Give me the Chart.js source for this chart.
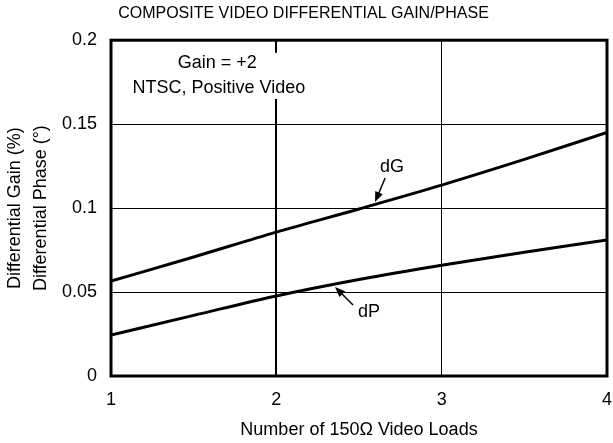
<!DOCTYPE html>
<html>
<head>
<meta charset="utf-8">
<script src="https://cdn.jsdelivr.net/npm/chart.js@4"></script>
<style>
body{margin:0;background:#fff}
#wrap{width:613px;height:443px;position:relative}
</style>
</head>
<body>
<div id="wrap"><canvas id="gainChart"></canvas></div>
<script>
// data
const loads = [1, 1.5, 2, 2.5, 3, 3.5, 4];
const dG = [0.0565, 0.0709, 0.0857, 0.0995, 0.1137, 0.129, 0.145];
const dP = [0.0244, 0.0361, 0.0477, 0.0575, 0.066, 0.0737, 0.081];
const xTicks = [1, 2, 3, 4];
const yTicks = [0, 0.05, 0.1, 0.15, 0.2];
const yTickLabels = ['0', '0.05', '0.1', '0.15', '0.2'];

const FONT = 'Arial, "Liberation Sans", sans-serif';

// frame + notes + arrow labels
const extras = {
  id: 'extras',
  afterDatasetsDraw(chart) {
    const {ctx, chartArea: a, scales: {x, y}} = chart;
    ctx.save();
    // note box (white bg breaks the x=2 grid line)
    ctx.fillStyle = '#fff';
    ctx.fillRect(x.getPixelForValue(1.08), y.getPixelForValue(0.1925), x.getPixelForValue(2.25) - x.getPixelForValue(1.08), y.getPixelForValue(0.165) - y.getPixelForValue(0.1925));
    ctx.fillStyle = '#000';
    ctx.font = '18px ' + FONT;
    ctx.textAlign = 'center';
    ctx.textBaseline = 'middle';
    ctx.fillText('Gain = +2', x.getPixelForValue(1.643), y.getPixelForValue(0.1864));
    ctx.fillText('NTSC, Positive Video', x.getPixelForValue(1.653), y.getPixelForValue(0.1715));

    // curve labels with arrows
    ctx.fillText('dG', x.getPixelForValue(2.70), y.getPixelForValue(0.1244));
    ctx.fillText('dP', x.getPixelForValue(2.56), y.getPixelForValue(0.038));
    arrow(ctx, x.getPixelForValue(2.658), y.getPixelForValue(0.1179), x.getPixelForValue(2.597), y.getPixelForValue(0.1036));
    arrow(ctx, x.getPixelForValue(2.464), y.getPixelForValue(0.0423), x.getPixelForValue(2.355), y.getPixelForValue(0.053));

    // frame
    ctx.strokeStyle = '#000';
    ctx.lineWidth = 3;
    ctx.strokeRect(a.left, a.top, a.right - a.left, a.bottom - a.top);
    ctx.restore();
  }
};

function arrow(ctx, x0, y0, x1, y1) {
  const ang = Math.atan2(y1 - y0, x1 - x0);
  const len = 11, w = 0.38;
  ctx.strokeStyle = '#000';
  ctx.lineWidth = 1.5;
  ctx.beginPath();
  ctx.moveTo(x0, y0);
  ctx.lineTo(x1 - Math.cos(ang) * len * 0.8, y1 - Math.sin(ang) * len * 0.8);
  ctx.stroke();
  ctx.beginPath();
  ctx.moveTo(x1, y1);
  ctx.lineTo(x1 - len * Math.cos(ang - w), y1 - len * Math.sin(ang - w));
  ctx.lineTo(x1 - len * Math.cos(ang + w), y1 - len * Math.sin(ang + w));
  ctx.closePath();
  ctx.fill();
}

new Chart(document.getElementById('gainChart'), {
  type: 'line',
  data: {
    datasets: [{
      label: 'dG',
      data: loads.map((v, i) => ({x: v, y: dG[i]})),
      borderColor: '#000',
      borderWidth: 3,
      pointRadius: 0,
      cubicInterpolationMode: 'monotone'
    }, {
      label: 'dP',
      data: loads.map((v, i) => ({x: v, y: dP[i]})),
      borderColor: '#000',
      borderWidth: 3,
      pointRadius: 0,
      cubicInterpolationMode: 'monotone'
    }]
  },
  options: {
    responsive: true,
    maintainAspectRatio: false,
    animation: false,
    layout: {padding: {top: 0, right: 6, left: 0, bottom: 0}},
    plugins: {
      legend: {display: false},
      tooltip: {enabled: false},
      title: {
        display: true,
        text: 'COMPOSITE VIDEO DIFFERENTIAL GAIN/PHASE',
        color: '#000',
        font: {family: FONT, size: 16, weight: 'normal'},
        padding: {top: 4, bottom: 17}
      }
    },
    scales: {
      x: {
        type: 'linear',
        min: 1, max: 4,
        afterBuildTicks: s => { s.ticks = xTicks.map(v => ({value: v})); },
        afterFit: s => { s.height = 67; s.paddingLeft = 0; s.paddingRight = 0; },
        grid: {color: '#000', lineWidth: c => c.tick && c.tick.value === 2 ? 2 : 1, drawTicks: false},
        border: {display: false},
        ticks: {color: '#000', font: {family: FONT, size: 18}, padding: 13, maxRotation: 0},
        title: {display: true, text: 'Number of 150Ω Video Loads', color: '#000', font: {family: FONT, size: 18}, padding: {top: 0, bottom: 2}}
      },
      y: {
        min: 0, max: 0.2,
        afterBuildTicks: s => { s.ticks = yTicks.map(v => ({value: v})); },
        afterFit: s => { s.width = 111; s.paddingTop = 0; s.paddingBottom = 0; },
        grid: {color: '#000', lineWidth: 1, drawTicks: false},
        border: {display: false},
        ticks: {color: '#000', font: {family: FONT, size: 18}, padding: 14,
          callback: v => yTickLabels[yTicks.indexOf(v)]},
        title: {display: true, text: ['Differential Gain (%)', 'Differential Phase (°)'], color: '#000', font: {family: FONT, size: 18, lineHeight: 1.44}, padding: {top: 2}}
      }
    }
  },
  plugins: [extras]
});
</script>
</body>
</html>
